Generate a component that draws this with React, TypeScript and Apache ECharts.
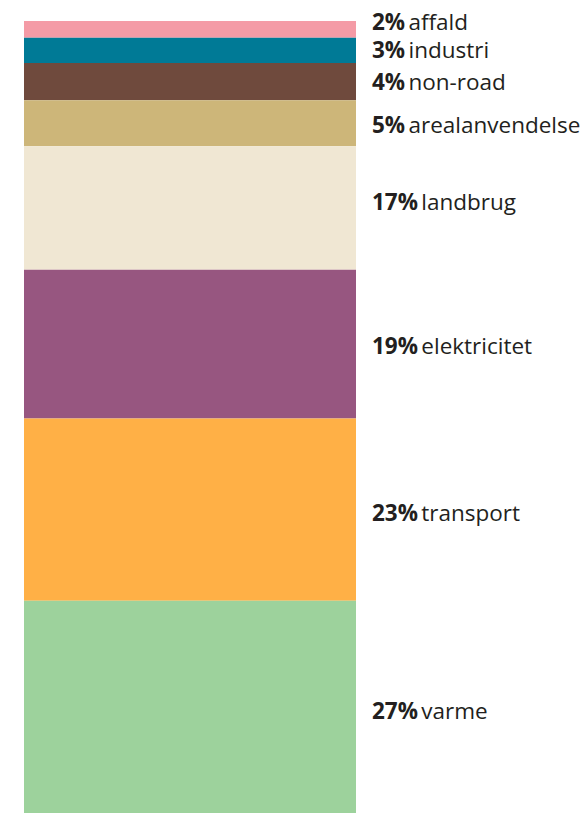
import React, { useEffect, useRef } from "react";
import * as echarts from "echarts";

const categories = ["affald", "industri", "non-road", "arealanvendelse", "landbrug", "elektricitet", "transport", "varme"];
const values = [2.1, 3.2, 4.7, 5.8, 15.6, 18.8, 23.0, 26.8];
const percentLabels = ["2%", "3%", "4%", "5%", "17%", "19%", "23%", "27%"];
const colors = ["#F49BA6", "#007A96", "#6F4A3D", "#CDB679", "#F0E7D3", "#975680", "#FFB046", "#9DD29C"];
const labelShiftY = [-8, -0.5, 0, 1.5, -6, 1, 3, 4];

export default function App() {
  const ref = useRef<HTMLDivElement>(null);
  useEffect(() => {
    if (!ref.current) return;
    const chart = echarts.init(ref.current, undefined, { renderer: "svg" });
    const total = values.reduce((a, b) => a + b, 0);
    chart.setOption({
      animation: false,
      grid: { left: 24, right: 230, top: 21, bottom: 0 },
      xAxis: { type: "category", data: ["total"], show: false },
      yAxis: { type: "value", inverse: true, min: 0, max: total, show: false },
      series: categories.map((name, i) => ({
        name,
        type: "bar",
        stack: "all",
        barWidth: "100%",
        barCategoryGap: 0,
        data: [values[i]],
        itemStyle: { color: colors[i] },
        label: {
          show: true,
          position: "right",
          distance: 16,
          offset: [0, labelShiftY[i]],
          lineHeight: 22,
          formatter: () => `{b|${percentLabels[i]}} {n|${name}}`,
          rich: {
            b: { fontFamily: "Open Sans", fontWeight: "bold", fontSize: 22.5, lineHeight: 22, color: "#231F20" },
            n: { fontFamily: "Open Sans", fontWeight: "normal", fontSize: 22.5, lineHeight: 22, color: "#231F20" },
          },
        },
      })),
    });
    return () => chart.dispose();
  }, []);
  return <div ref={ref} style={{ width: 586, height: 813, position: "absolute", left: 0, top: 0 }} />;
}
